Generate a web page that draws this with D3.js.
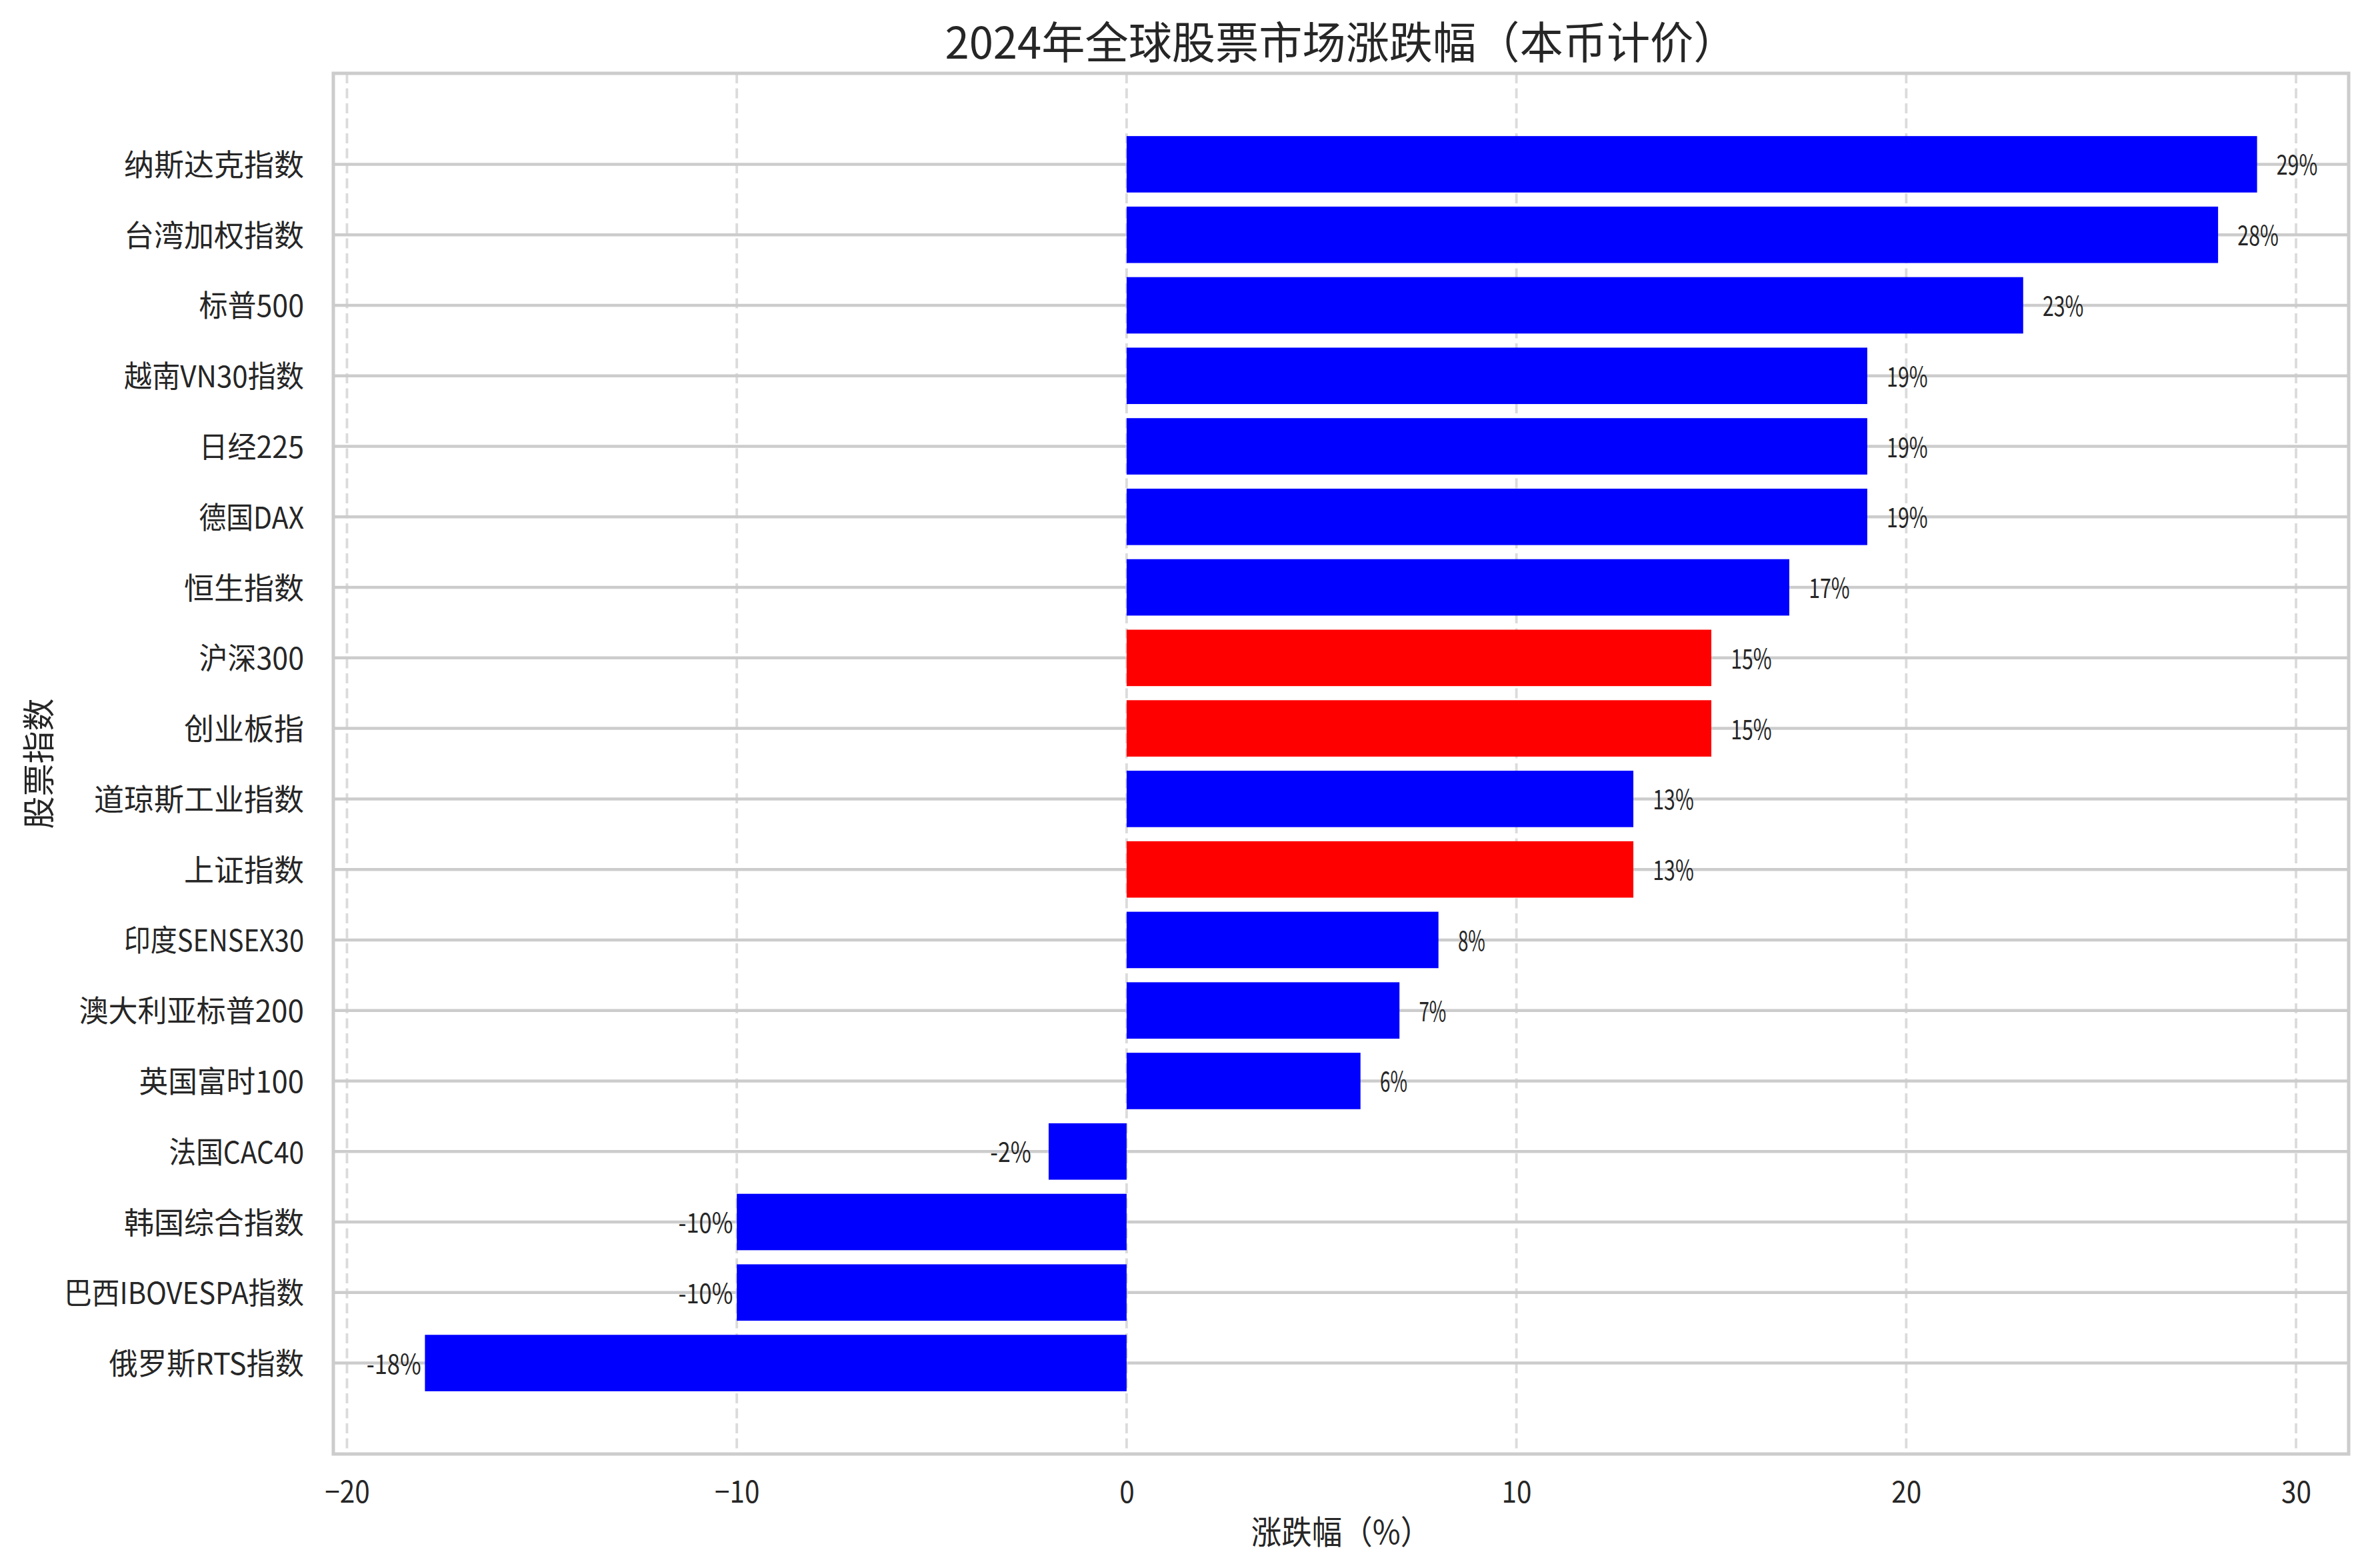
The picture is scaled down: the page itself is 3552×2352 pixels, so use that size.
<!DOCTYPE html>
<html>
<head>
<meta charset="utf-8">
<script src="https://cdn.jsdelivr.net/npm/d3@7"></script>
<style>
  html, body { margin: 0; padding: 0; background: #fff; }
  text { font-family: "Noto Sans CJK SC", "Noto Sans", sans-serif; fill: #262626; }
</style>
</head>
<body>
<div id="chart"></div>
<script>
// 2024 index returns, local currency, top to bottom
var indices = ['纳斯达克指数', '台湾加权指数', '标普500', '越南VN30指数', '日经225', '德国DAX',
  '恒生指数', '沪深300', '创业板指', '道琼斯工业指数', '上证指数', '印度SENSEX30',
  '澳大利亚标普200', '英国富时100', '法国CAC40', '韩国综合指数', '巴西IBOVESPA指数', '俄罗斯RTS指数'];
var returns = [29, 28, 23, 19, 19, 19, 17, 15, 15, 13, 13, 8, 7, 6, -2, -10, -10, -18];
var chinaIndices = ['沪深300', '创业板指', '上证指数'];
var xTicks = [-20, -10, 0, 10, 20, 30];

var W = 3552, H = 2352;
var m = {left: 500, right: 3523, top: 110, bottom: 2181};

// the original font has half-width latin glyphs, squeeze ours to match
function fit(sel, size){
  sel.attr('font-size', size)
    .attr('lengthAdjust', 'spacingAndGlyphs')
    .attr('textLength', function(){
      var w = 0;
      for (var ch of this.textContent) w += ch.charCodeAt(0) >= 0x2E80 ? 1 : 0.5;
      return w * size;
    });
}

var svg = d3.select('#chart')
  .append('svg')
    .attr('width', W)
    .attr('height', H)
    .style('display', 'block');

var x = d3.scaleLinear()
  .domain([-20.35, 31.35])
  .range([m.left, m.right]);

var y = d3.scaleBand()
  .domain(indices)
  .range([m.top, m.bottom])
  .paddingInner(0.2)
  .paddingOuter(0.89);

var mid = function(d){ return y(d) + y.bandwidth() / 2; };

// grid
svg.append('g')
  .selectAll('line')
  .data(indices)
  .join('line')
    .attr('x1', m.left).attr('x2', m.right)
    .attr('y1', mid).attr('y2', mid)
    .attr('stroke', '#cccccc')
    .attr('stroke-width', 4.5);

svg.append('g')
  .selectAll('line')
  .data(xTicks)
  .join('line')
    .attr('x1', x).attr('x2', x)
    .attr('y1', m.top).attr('y2', m.bottom)
    .attr('stroke', '#cccccc')
    .attr('stroke-opacity', 0.7)
    .attr('stroke-width', 3.8)
    .attr('stroke-dasharray', '15,7.5');

// bars
svg.append('g')
  .selectAll('rect')
  .data(indices)
  .join('rect')
    .attr('x', function(d, i){ return x(Math.min(0, returns[i])); })
    .attr('y', function(d){ return y(d); })
    .attr('width', function(d, i){ return Math.abs(x(returns[i]) - x(0)); })
    .attr('height', y.bandwidth())
    .attr('fill', function(d){ return chinaIndices.indexOf(d) >= 0 ? '#ff0000' : '#0000ff'; });

// value labels
svg.append('g')
  .selectAll('text')
  .data(indices)
  .join('text')
    .attr('x', function(d, i){ return returns[i] > 0 ? x(returns[i] + 0.5) : x(returns[i] - 1.5); })
    .attr('y', function(d){ return mid(d) - 2; })
    .attr('dominant-baseline', 'central')
    .text(function(d, i){ return returns[i] + '%'; })
    .call(fit, 41);

// spines
svg.append('rect')
  .attr('x', m.left).attr('y', m.top)
  .attr('width', m.right - m.left).attr('height', m.bottom - m.top)
  .attr('fill', 'none')
  .attr('stroke', '#cccccc')
  .attr('stroke-width', 5);

// axes (tick labels only, seaborn style)
var xAxis = svg.append('g')
  .attr('transform', 'translate(0,' + m.bottom + ')')
  .call(d3.axisBottom(x).tickValues(xTicks).tickSize(0).tickPadding(0)
    .tickFormat(function(d){ return String(d).replace('-', '\u2212'); }));
xAxis.select('.domain').remove();
xAxis.selectAll('text')
  .attr('y', 73)
  .attr('dy', null)
  .attr('font-family', null)
  .attr('fill', '#262626')
  .call(fit, 45);

var yAxis = svg.append('g')
  .attr('transform', 'translate(' + m.left + ',0)')
  .call(d3.axisLeft(y).tickSize(0).tickPadding(0));
yAxis.select('.domain').remove();
yAxis.selectAll('text')
  .attr('x', -44)
  .attr('dy', -2)
  .attr('dominant-baseline', 'central')
  .attr('font-family', null)
  .attr('fill', '#262626')
  .call(fit, 45);

// titles
svg.append('text')
  .attr('x', (m.left + m.right) / 2)
  .attr('y', 88)
  .attr('text-anchor', 'middle')
  .text('2024年全球股票市场涨跌幅（本币计价）')
  .call(fit, 66);

svg.append('text')
  .attr('x', (m.left + m.right) / 2)
  .attr('y', 2316)
  .attr('text-anchor', 'middle')
  .text('涨跌幅（%）')
  .call(fit, 49);

svg.append('text')
  .attr('transform', 'translate(54,' + (m.top + m.bottom) / 2 + ') rotate(-90)')
  .attr('text-anchor', 'middle')
  .attr('dominant-baseline', 'central')
  .text('股票指数')
  .call(fit, 49);
</script>
</body>
</html>
